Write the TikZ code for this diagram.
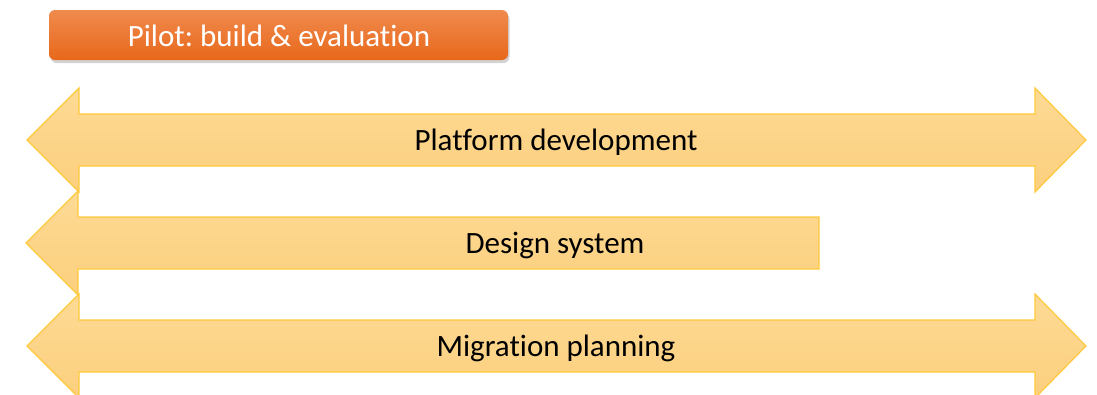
\documentclass[tikz,border=0pt]{standalone}
\usepackage{fontspec}
\setmainfont{Carlito}[Ligatures={NoCommon}]
\usetikzlibrary{shadows}
\frenchspacing
\definecolor{arrfillA}{HTML}{FDDA94}
\definecolor{arrfillB}{HTML}{FCCF7E}
\definecolor{arrline}{HTML}{FFC93C}
\definecolor{orgA}{HTML}{F08A4E}
\definecolor{orgB}{HTML}{E8681A}
\tikzset{
  bigarrow/.style={top color=arrfillA, bottom color=arrfillB, draw=arrline, line width=1.2pt, line join=miter},
  arrlabel/.style={font=\fontsize{31}{36}\selectfont, text=black, inner sep=0pt, anchor=base},
  pilotbox/.style={rounded corners=6pt, top color=orgA, bottom color=orgB, draw=none,
     drop shadow={shadow xshift=1.5pt, shadow yshift=-3pt, opacity=0.35, fill=gray}}
}
\begin{document}
\begin{tikzpicture}[x=1pt,y=-1pt]
\useasboundingbox (0,0) rectangle (1097,394);
\clip (0,0) rectangle (1097,394);
% pilot box
\path[pilotbox] (49,10) rectangle (508,60);
\node[font=\fontsize{31}{36}\selectfont, text=white, inner sep=0pt, anchor=base] (pilot) at (279,46) {Pilot: build \& evaluation};
% arrow 1
\path[bigarrow] (27,140) -- (79,88) -- (79,114) -- (1035,114) -- (1035,88) -- (1086,140)
  -- (1035,192) -- (1035,166) -- (79,166) -- (79,192) -- cycle;
\node[arrlabel] (platform) at (556,150) {Platform development};
% arrow 2
\path[bigarrow] (26,243) -- (78,191) -- (78,217) -- (819,217) -- (819,269) -- (78,269) -- (78,295) -- cycle;
\node[arrlabel] (design) at (555,253) {Design system};
% arrow 3
\path[bigarrow] (27,346) -- (79,294) -- (79,320) -- (1035,320) -- (1035,294) -- (1086,346)
  -- (1035,398) -- (1035,372) -- (79,372) -- (79,398) -- cycle;
\node[arrlabel] (migration) at (556,356) {Migration planning};
\end{tikzpicture}
\end{document}
